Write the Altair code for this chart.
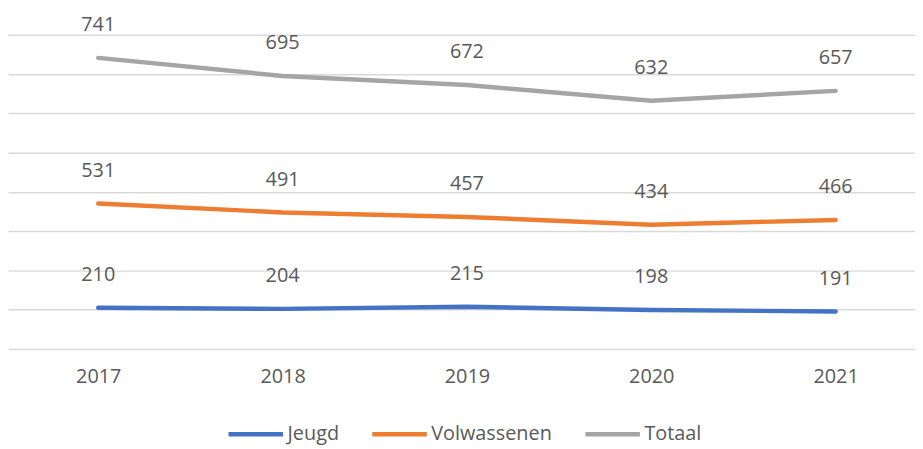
import altair as alt
import pandas as pd

years = ["2017", "2018", "2019", "2020", "2021"]
series = ["Jeugd", "Volwassenen", "Totaal"]
jeugd = [210, 204, 215, 198, 191]
volwassenen = [531, 491, 457, 434, 466]
totaal = [741, 695, 672, 632, 657]
colors = ["#4472C4", "#ED7D31", "#A5A5A5"]

rows = []
for k, (name, vals) in enumerate(zip(series, [jeugd, volwassenen, totaal])):
    for y, v in zip(years, vals):
        rows.append({"year": y, "series": name, "k": k, "value": v})
df = pd.DataFrame(rows)

FONT = "Open Sans"
TXT = "#595959"

base = alt.Chart(df).transform_window(
    cum="sum(value)", groupby=["year"], sort=[alt.SortField("k")], frame=[None, 0]
).encode(
    x=alt.X("year:O", scale=alt.Scale(type="point", padding=0.46, align=0.532),
            axis=alt.Axis(title=None, domain=False, ticks=False, labelAngle=0,
                          labelFontSize=20, labelColor=TXT, labelFont=FONT,
                          labelPadding=18, grid=False)),
    y=alt.Y("cum:Q", stack=None, scale=alt.Scale(domain=[0, 1600], nice=False),
            axis=alt.Axis(title=None, labels=False, ticks=False, domain=False,
                          values=[0, 200, 400, 600, 800, 1000, 1200, 1400, 1600],
                          grid=True, gridColor="#D9D9D9", gridWidth=1.5)),
)

lines = base.mark_line(strokeWidth=4.5, strokeCap="round", strokeJoin="round").encode(
    color=alt.Color("series:N",
                    scale=alt.Scale(domain=series, range=colors),
                    legend=alt.Legend(title=None, orient="none", direction="horizontal",
                                      legendX=220, legendY=373, symbolType="stroke",
                                      symbolSize=3025, symbolStrokeWidth=4.5,
                                      labelFontSize=20, labelColor=TXT, labelFont=FONT,
                                      labelOffset=2, columnPadding=24, padding=0)),
    detail="series:N",
)

labels = base.mark_text(dy=-33, fontSize=20, color=TXT, font=FONT).encode(
    text=alt.Text("value:Q"),
)

chart = alt.layer(lines, labels).properties(
    width=915, height=317,
    autosize=alt.AutoSizeParams(type="none"),
    padding={"left": 0, "top": 25, "right": 0, "bottom": 98},
).configure_view(stroke=None)

chart.save("out.html", embed_options={"renderer": "svg", "actions": False})
